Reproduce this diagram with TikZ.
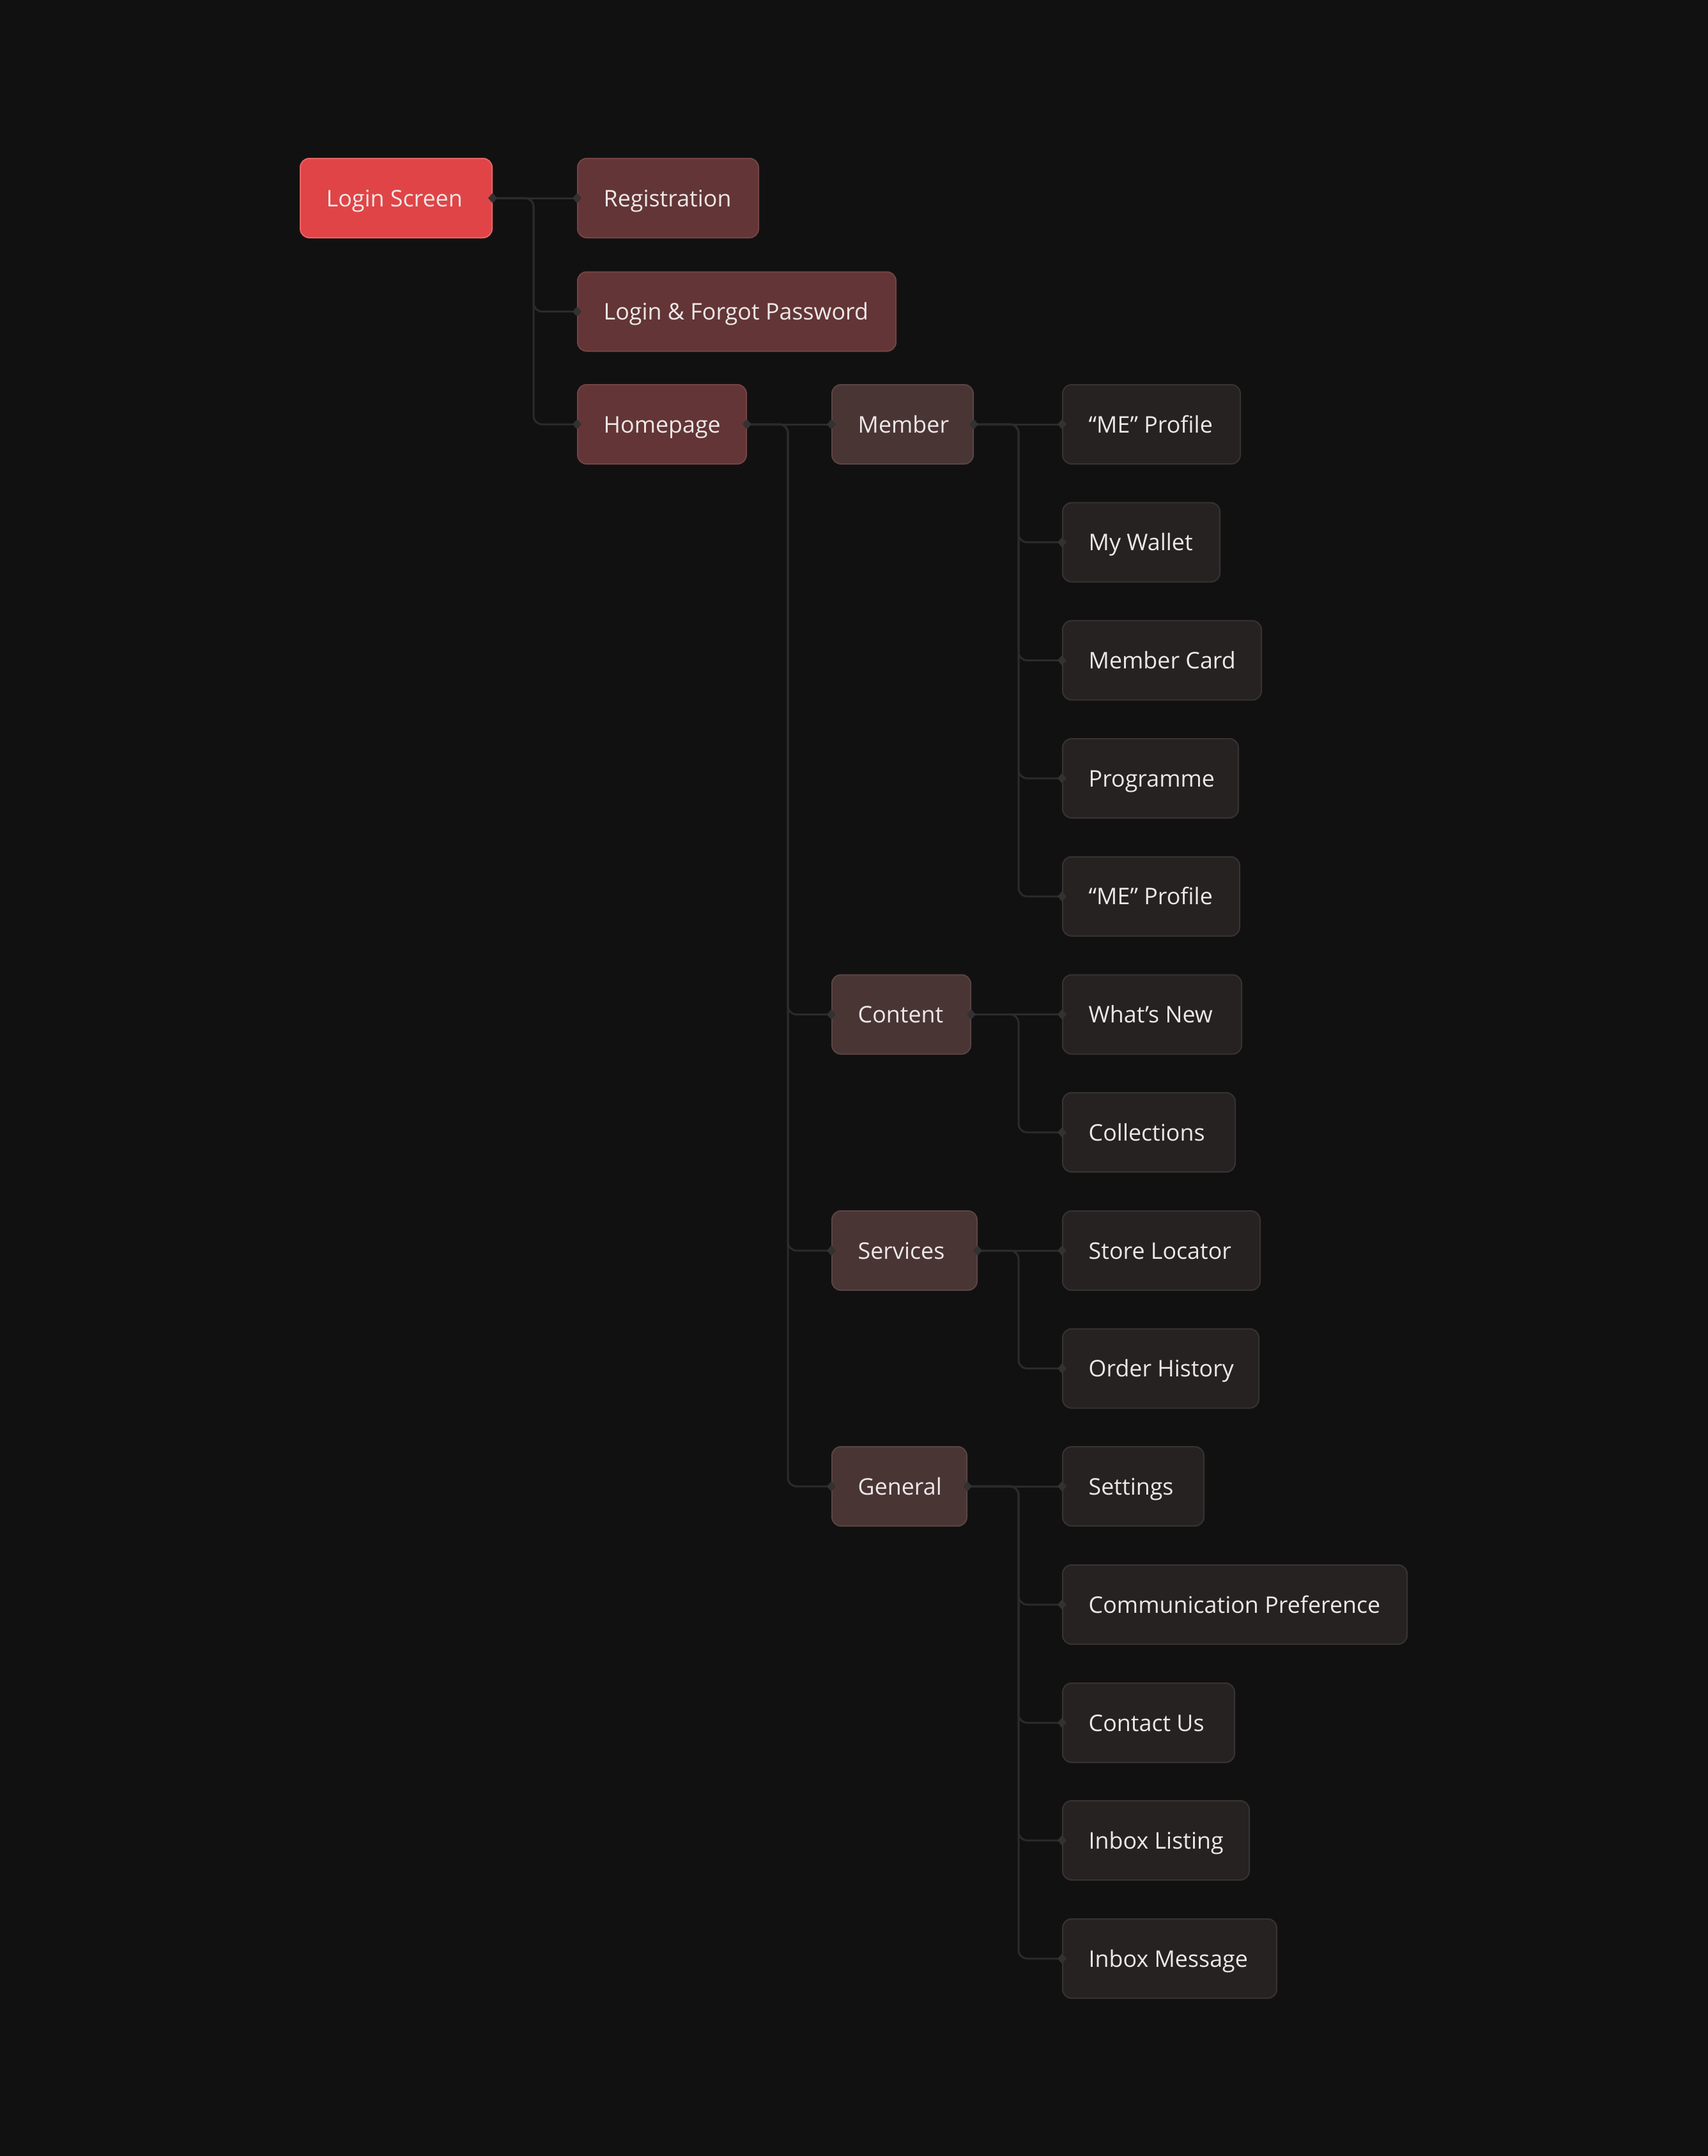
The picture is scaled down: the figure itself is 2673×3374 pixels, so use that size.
\documentclass[tikz,border=0pt]{standalone}
\usepackage{fontspec}
\setmainfont{Open Sans}
\definecolor{bg}{HTML}{121112}
\definecolor{rootfill}{HTML}{E04446}
\definecolor{rootdraw}{HTML}{E86466}
\definecolor{lonefill}{HTML}{633536}
\definecolor{lonedraw}{HTML}{744444}
\definecolor{ltwofill}{HTML}{4A3535}
\definecolor{ltwodraw}{HTML}{5A4444}
\definecolor{leaffill}{HTML}{262222}
\definecolor{leafdraw}{HTML}{383232}
\definecolor{linec}{HTML}{2C2B2B}
\definecolor{diac}{HTML}{333131}
\definecolor{txt}{HTML}{EDE8E8}
\tikzset{
  box/.style={rectangle, rounded corners=4.2pt, minimum height=37.2pt, inner sep=0pt, anchor=west, line width=0.6pt},
  rootbox/.style={box, fill=rootfill, draw=rootdraw},
  lonebox/.style={box, fill=lonefill, draw=lonedraw},
  ltwobox/.style={box, fill=ltwofill, draw=ltwodraw},
  leafbox/.style={box, fill=leaffill, draw=leafdraw},
  lbl/.style={anchor=base west, inner sep=0pt, text=txt, font=\fontsize{10.75pt}{13pt}\selectfont},
  conn/.style={draw=linec, line width=0.9pt, rounded corners=4pt},
  dia/.style={fill=diac},
}
\newcommand\bx[6]{%
  \node[#1, minimum width={(#4-#3-2)*0.3pt}] (#2) at (#3,#5) {};
  \node[lbl] (#2-t) at (#3+41,#5+13) {#6};
}
\newcommand\kids[3]{%
  \draw[conn] (#1.east) -- (#2.west);
  \foreach \c in {#3} {\draw[conn] (#1.east) -| ([xshift=-20.4pt]\c.west) -- (\c.west);}
  \foreach \c in {#2,#3} {\fill[dia] (\c.west) +(-7,0) -- +(0,-8) -- +(7,0) -- +(0,8) -- cycle;}
  \fill[dia] (#1.east) +(-7,0) -- +(0,-8) -- +(7,0) -- +(0,8) -- cycle;
}
\begin{document}
\begin{tikzpicture}[x=0.3pt,y=-0.3pt]
\fill[bg] (0,0) rectangle (2673,3374);
\useasboundingbox (0,0) rectangle (2673,3374);

\bx{rootbox}{login}{469}{771}{310}{Login Screen}
\bx{lonebox}{reg}{903}{1188}{310}{Registration}
\bx{lonebox}{lfp}{903}{1403}{487.5}{Login \& Forgot Password}
\bx{lonebox}{home}{903}{1169}{664}{Homepage}

\bx{ltwobox}{member}{1301}{1524}{664}{Member}
\bx{ltwobox}{content}{1301}{1520}{1587.5}{Content}
\bx{ltwobox}{services}{1301}{1530}{1957}{Services}
\bx{ltwobox}{general}{1301}{1514}{2326}{General}

\bx{leafbox}{meone}{1662}{1942}{664}{“ME” Profile}
\bx{leafbox}{wallet}{1662}{1910}{848.7}{My Wallet}
\bx{leafbox}{card}{1662}{1975}{1033.4}{Member Card}
\bx{leafbox}{prog}{1662}{1939}{1218}{Programme}
\bx{leafbox}{metwo}{1662}{1941}{1402.8}{“ME” Profile}
\bx{leafbox}{whatsnew}{1662}{1944}{1587.5}{What’s New}
\bx{leafbox}{coll}{1662}{1934}{1772}{Collections}
\bx{leafbox}{store}{1662}{1973}{1957}{Store Locator}
\bx{leafbox}{order}{1662}{1971}{2141.6}{Order History}
\bx{leafbox}{settings}{1662}{1885}{2326}{Settings}
\bx{leafbox}{comm}{1662}{2203}{2511}{Communication Preference}
\bx{leafbox}{contact}{1662}{1933}{2696}{Contact Us}
\bx{leafbox}{inboxl}{1662}{1956}{2880}{Inbox Listing}
\bx{leafbox}{inboxm}{1662}{1999}{3065}{Inbox Message}

\kids{login}{reg}{lfp,home}
\kids{home}{member}{content,services,general}
\kids{member}{meone}{wallet,card,prog,metwo}
\kids{content}{whatsnew}{coll}
\kids{services}{store}{order}
\kids{general}{settings}{comm,contact,inboxl,inboxm}
\end{tikzpicture}
\end{document}
